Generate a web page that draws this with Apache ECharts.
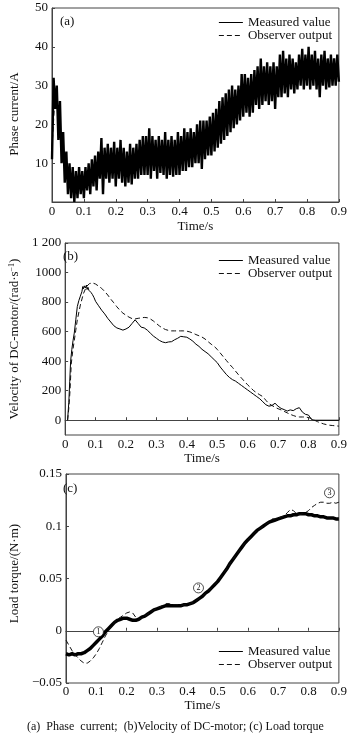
<!DOCTYPE html>
<html>
<head>
<meta charset="utf-8">
<script src="https://cdn.jsdelivr.net/npm/echarts@6/dist/echarts.min.js"></script>
<style>
  html, body { margin: 0; padding: 0; background: #fff; }
  #chart { width: 350px; height: 737px; }
</style>
</head>
<body>
<div id="chart"></div>
<script>
const phaseStep = 0.005;
const phaseMeasured = [
  11, 32, 24, 30, 16, 26, 10, 18, 5, 13,
  2, 10, 1, 9, 0, 8, 1, 9, 2, 8,
  1, 9, 3, 10, 2, 11, 4, 12, 3, 13,
  6, 16.5, 2, 14, 6, 15, 5, 14, 6, 15.5,
  4, 14, 6, 16, 5, 14, 4, 13, 5, 15,
  4.5, 14, 6, 15, 6, 16, 7, 17, 7, 17,
  7, 19, 6, 17, 8, 16, 6, 17, 7.5, 16,
  7, 18, 6, 16, 7, 17, 6.5, 16, 7, 18,
  7, 17, 8, 19, 8, 18, 9, 19, 9, 18,
  10, 20, 10, 21, 8.5, 21, 11, 21, 12, 22,
  12, 23, 13, 24, 14, 26, 15, 27, 16, 28,
  17, 29, 18, 30, 19, 29, 20, 30, 21, 33,
  22, 33, 23, 32, 22, 33, 23, 34, 25, 35,
  24, 37, 25, 35, 26, 36, 25, 35, 26, 36,
  24, 35, 27, 38, 27, 39, 28, 37, 27, 38,
  29, 37, 28, 36, 29, 38, 30, 39.5, 29, 38,
  30, 40, 29, 38, 30, 39, 29, 37, 27, 38,
  30, 39, 29, 37, 29.5, 38, 30, 37, 30, 38,
  31
];
// (a) observer output, every 0.01 s
const obsStep = 0.01;
const phaseObserver = [
  14, 28, 22, 15, 9.5, 6.5, 5, 4.5, 4.5, 5,
  5, 5.5, 6.5, 7.5, 8.5, 9.5, 10, 10, 10, 10,
  10, 10, 10, 9.5, 9.5, 9.5, 10, 10.5, 11, 11.5,
  12, 12, 12, 12, 12, 12, 12, 12, 12, 12,
  12, 12.5, 13, 13.5, 14, 14.5, 15, 15.5, 16, 16.5,
  17, 18, 19, 20, 21, 22, 23, 23.5, 24, 25,
  26, 27, 27.5, 28, 28.5, 29, 29.5, 30, 30, 30.5,
  31, 31, 31.5, 32, 32, 32.5, 32.5, 33, 33, 33.5,
  34, 34, 34, 34, 34, 34, 34, 34, 34, 34, 34
];

// (b) velocity of DC-motor
const velMeasTime = [
  0.008, 0.012, 0.015, 0.018, 0.022, 0.026, 0.03, 0.035, 0.04, 0.045,
  0.05, 0.055, 0.058, 0.06, 0.063, 0.066, 0.07, 0.072, 0.075, 0.078,
  0.082, 0.085, 0.09, 0.095, 0.1, 0.11, 0.12, 0.13, 0.14, 0.15,
  0.16, 0.17, 0.18, 0.19, 0.2, 0.21, 0.22, 0.23, 0.235, 0.24,
  0.25, 0.26, 0.27, 0.28, 0.29, 0.3, 0.31, 0.32, 0.33, 0.34,
  0.35, 0.36, 0.37, 0.38, 0.39, 0.4, 0.41, 0.42, 0.43, 0.44,
  0.45, 0.46, 0.47, 0.48, 0.49, 0.5, 0.51, 0.52, 0.53, 0.54,
  0.55, 0.56, 0.57, 0.58, 0.59, 0.6, 0.61, 0.62, 0.63, 0.64,
  0.65, 0.66, 0.67, 0.68, 0.69, 0.7, 0.71, 0.72, 0.73, 0.74,
  0.75, 0.76, 0.77, 0.78, 0.79, 0.8, 0.81, 0.82, 0.9
];
const velMeasured = [
  0, 120, 260, 400, 480, 540, 590, 680, 770, 810,
  840, 870, 905, 890, 910, 895, 915, 885, 900, 880,
  885, 865, 850, 830, 805, 775, 745, 720, 690, 665,
  640, 625, 618, 610, 618, 630, 655, 680, 675, 655,
  630, 625, 610, 590, 570, 555, 540, 530, 525, 530,
  532, 545, 555, 568, 565, 562, 550, 535, 515, 500,
  480, 465, 450, 430, 410, 390, 360, 335, 310, 290,
  275, 265, 250, 235, 220, 205, 190, 175, 160, 145,
  125, 105, 95, 100, 115, 95, 80, 72, 62, 70,
  65, 78, 85, 55, 40, 35, 5, 0, 0
];
const velObsTime = [
  0.008, 0.012, 0.016, 0.02, 0.025, 0.03, 0.035, 0.04, 0.05, 0.06,
  0.07, 0.08, 0.09, 0.1, 0.11, 0.12, 0.13, 0.14, 0.15, 0.16,
  0.17, 0.18, 0.19, 0.2, 0.21, 0.22, 0.23, 0.24, 0.25, 0.26,
  0.27, 0.28, 0.29, 0.3, 0.31, 0.32, 0.33, 0.34, 0.35, 0.36,
  0.37, 0.38, 0.39, 0.4, 0.41, 0.42, 0.43, 0.44, 0.45, 0.46,
  0.47, 0.48, 0.49, 0.5, 0.51, 0.52, 0.53, 0.54, 0.55, 0.56,
  0.57, 0.58, 0.59, 0.6, 0.61, 0.62, 0.63, 0.64, 0.65, 0.66,
  0.67, 0.68, 0.69, 0.7, 0.71, 0.72, 0.73, 0.74, 0.75, 0.76,
  0.77, 0.78, 0.79, 0.8, 0.81, 0.82, 0.83, 0.84, 0.85, 0.86,
  0.87, 0.88, 0.89, 0.9
];
const velObserver = [
  0, 80, 200, 380, 470, 540, 610, 680, 780, 857,
  905, 925, 930, 922, 908, 893, 872, 848, 820, 795,
  768, 745, 725, 711, 698, 688, 686, 690, 693, 696,
  694, 686, 672, 655, 638, 624, 614, 608, 605, 605,
  605, 605, 605, 603, 598, 590, 580, 572, 563, 550,
  532, 515, 500, 480, 455, 430, 405, 380, 358, 333,
  308, 285, 262, 240, 220, 200, 185, 172, 160, 135,
  112, 100, 88, 78, 70, 60, 50, 40, 32, 25,
  22, 22, 22, 18, 12, 0, -10, -18, -25, -30,
  -34, -36, -38, -40
];

// (c) load torque, every 0.01 s
const torqueMeasured = [
  -0.022, -0.023, -0.022, -0.023, -0.022, -0.022, -0.021, -0.019, -0.017, -0.014,
  -0.011, -0.008, -0.005, -0.001, 0.002, 0.005, 0.008, 0.010, 0.011, 0.012,
  0.012, 0.011, 0.010, 0.010, 0.011, 0.013, 0.014, 0.016, 0.018, 0.020,
  0.021, 0.022, 0.023, 0.024, 0.024, 0.024, 0.024, 0.024, 0.024, 0.025,
  0.025, 0.026, 0.027, 0.029, 0.031, 0.033, 0.036, 0.038, 0.041, 0.044,
  0.047, 0.051, 0.055, 0.059, 0.064, 0.068, 0.072, 0.076, 0.080, 0.084,
  0.087, 0.090, 0.093, 0.096, 0.098, 0.100, 0.102, 0.104, 0.105, 0.106,
  0.107, 0.108, 0.109, 0.110, 0.110, 0.111, 0.111, 0.112, 0.112, 0.112,
  0.111, 0.111, 0.110, 0.110, 0.109, 0.109, 0.108, 0.108, 0.108, 0.107,
  0.107
];
const torqueObserver = [
  -0.009, -0.014, -0.019, -0.023, -0.026, -0.029, -0.031, -0.031, -0.029, -0.026,
  -0.022, -0.017, -0.011, -0.005, 0.000, 0.004, 0.008, 0.011, 0.013, 0.015,
  0.017, 0.018, 0.017, 0.013, 0.011, 0.012, 0.014, 0.016, 0.018, 0.020,
  0.021, 0.023, 0.024, 0.026, 0.026, 0.025, 0.025, 0.025, 0.024, 0.025,
  0.025, 0.026, 0.027, 0.029, 0.031, 0.033, 0.036, 0.038, 0.041, 0.044,
  0.047, 0.051, 0.055, 0.059, 0.064, 0.068, 0.072, 0.076, 0.080, 0.084,
  0.087, 0.090, 0.093, 0.096, 0.098, 0.100, 0.102, 0.104, 0.107, 0.107,
  0.108, 0.109, 0.110, 0.113, 0.116, 0.115, 0.112, 0.111, 0.112, 0.113,
  0.115, 0.118, 0.120, 0.122, 0.123, 0.123, 0.122, 0.122, 0.123, 0.122,
  0.123
];
// circled markers in (c): [label, time, torque]
const torqueMarks = [
  ['1', 0.107, -0.001],
  ['2', 0.437, 0.041],
  ['3', 0.869, 0.132]
];

const velTicks = [0, 200, 400, 600, 800, 1000, 1200];
const seriesNames = ['Measured value', 'Observer output'];

const FONT = 'Liberation Serif';
const INK = '#111';
const BOX = '#444';

function byStep(values, step) {
  return values.map((v, i) => [+(i * step).toFixed(3), v]);
}
function zip(ts, vs) {
  return ts.map((t, i) => [t, vs[i]]);
}

function xAxis(gridIndex, margin, gap) {
  return {
    type: 'value', gridIndex: gridIndex, min: 0, max: 0.9, interval: 0.1,
    name: 'Time/s', nameLocation: 'middle', nameGap: gap,
    nameTextStyle: { fontFamily: FONT, fontSize: 13, color: INK },
    axisLine: { show: true, lineStyle: { color: BOX, width: 1 } },
    axisTick: { show: true, inside: true, length: 3, lineStyle: { color: BOX } },
    axisLabel: { fontFamily: FONT, fontSize: 13, color: INK, margin: margin },
    splitLine: { show: false }
  };
}

function yBase(gridIndex, name, gap, pad) {
  return {
    type: 'value', gridIndex: gridIndex,
    name: name, nameLocation: 'middle', nameGap: gap,
    nameTextStyle: { fontFamily: FONT, fontSize: 13, color: INK, padding: pad },
    axisLine: { show: true, lineStyle: { color: BOX, width: 1 } },
    axisTick: { show: true, inside: true, length: 3, lineStyle: { color: BOX } },
    axisLabel: { fontFamily: FONT, fontSize: 13, color: INK, margin: 4 },
    splitLine: { show: false }
  };
}

function legend(top, bottom) {
  const l = {
    data: seriesNames, orient: 'vertical', right: 18, padding: 0,
    itemWidth: 24, itemHeight: 10, itemGap: 0,
    itemStyle: { color: 'rgba(0,0,0,0)', borderWidth: 0, opacity: 0 },
    lineStyle: { width: 1 },
    textStyle: { fontFamily: FONT, fontSize: 13, color: INK, lineHeight: 12 }
  };
  if (top != null) l.top = top; else l.bottom = bottom;
  return l;
}

const solid = { color: '#000', width: 1 };
const dashed = { color: '#111', width: 1, type: [5, 3] };

const chart = echarts.init(document.getElementById('chart'));
chart.setOption({
  animation: false,
  backgroundColor: '#fff',
  color: ['#000', '#111'],
  title: [
    { text: '(a)', left: 55, top: 10, textStyle: { fontFamily: FONT, fontSize: 13, fontWeight: 'normal', color: INK } },
    { text: '(b)', left: 58, top: 245, textStyle: { fontFamily: FONT, fontSize: 13, fontWeight: 'normal', color: INK } },
    { text: '(c)', left: 58, top: 477, textStyle: { fontFamily: FONT, fontSize: 13, fontWeight: 'normal', color: INK } },
    { text: '(a)  Phase  current;  (b)Velocity of DC-motor; (c) Load torque', left: 22, top: 716,
      textStyle: { fontFamily: FONT, fontSize: 12, fontWeight: 'normal', color: INK } }
  ],
  legend: [legend(16), legend(254), legend(null, 66)],
  grid: [
    { left: 51, top: 8, width: 292, height: 194, show: true, borderColor: BOX, borderWidth: 1 },
    { left: 51, top: 243, width: 292, height: 192, show: true, borderColor: BOX, borderWidth: 1 },
    { left: 53, top: 474, width: 291, height: 209, show: true, borderColor: BOX, borderWidth: 1 }
  ],
  xAxis: [xAxis(0, 3, 18), xAxis(1, 3, 16), xAxis(2, 2, 15)],
  yAxis: [
    Object.assign(yBase(0, 'Phase current/A', 31, [0, 18, 0, 0]), {
      min: 0, max: 50, interval: 10,
      axisLabel: { fontFamily: FONT, fontSize: 13, color: INK, margin: 4, showMinLabel: false }
    }),
    Object.assign(yBase(1, 'Velocity of DC-motor/(rad·s{sup|−1})', 33, [0, 0, 0, 0]), {
      min: -100, max: 1200,
      axisTick: { show: true, inside: true, length: 3, lineStyle: { color: BOX }, customValues: velTicks },
      axisLabel: {
        fontFamily: FONT, fontSize: 13, color: INK, margin: 4, customValues: velTicks,
        formatter: v => v === 1200 ? '1 200' : String(v)
      }
    }),
    Object.assign(yBase(2, 'Load torque/(N·m)', 34, [0, 0, 0, 10]), {
      min: -0.05, max: 0.15, interval: 0.05,
      axisLabel: {
        fontFamily: FONT, fontSize: 13, color: INK, margin: 4,
        formatter: v => String(+v.toFixed(2)).replace('-', '−')
      }
    })
  ],
  series: [
    { name: seriesNames[0], type: 'line', xAxisIndex: 0, yAxisIndex: 0, z: 3,
      showSymbol: false, symbol: 'none', lineStyle: { color: '#000', width: 2.4, join: 'miter', miterLimit: 3 },
      data: byStep(phaseMeasured, phaseStep) },
    { name: seriesNames[1], type: 'line', xAxisIndex: 0, yAxisIndex: 0, z: 2,
      showSymbol: false, symbol: 'none', lineStyle: dashed, data: byStep(phaseObserver, obsStep) },
    { name: seriesNames[0], type: 'line', xAxisIndex: 1, yAxisIndex: 1,
      showSymbol: false, symbol: 'none', lineStyle: solid, data: zip(velMeasTime, velMeasured) },
    { name: seriesNames[1], type: 'line', xAxisIndex: 1, yAxisIndex: 1,
      showSymbol: false, symbol: 'none', lineStyle: dashed, data: zip(velObsTime, velObserver) },
    { name: seriesNames[0], type: 'line', xAxisIndex: 2, yAxisIndex: 2, z: 2,
      showSymbol: false, symbol: 'none', lineStyle: { color: '#000', width: 3.5 },
      data: byStep(torqueMeasured, obsStep),
      markPoint: {
        symbol: 'circle', symbolSize: 10,
        itemStyle: { color: '#fff', borderColor: '#222', borderWidth: 0.8 },
        label: { show: true, formatter: '{b}', fontFamily: FONT, fontSize: 8, color: INK },
        data: torqueMarks.map(m => ({ name: m[0], coord: [m[1], m[2]] }))
      } },
    { name: seriesNames[1], type: 'line', xAxisIndex: 2, yAxisIndex: 2, z: 3,
      showSymbol: false, symbol: 'none', lineStyle: dashed, data: byStep(torqueObserver, obsStep) }
  ]
});
// the superscript in the velocity axis name
chart.setOption({
  yAxis: [{}, { nameTextStyle: { rich: { sup: { fontFamily: FONT, fontSize: 8, color: INK, verticalAlign: 'top', padding: [0, 0, 5, 0] } } } }, {}]
});
</script>
</body>
</html>
